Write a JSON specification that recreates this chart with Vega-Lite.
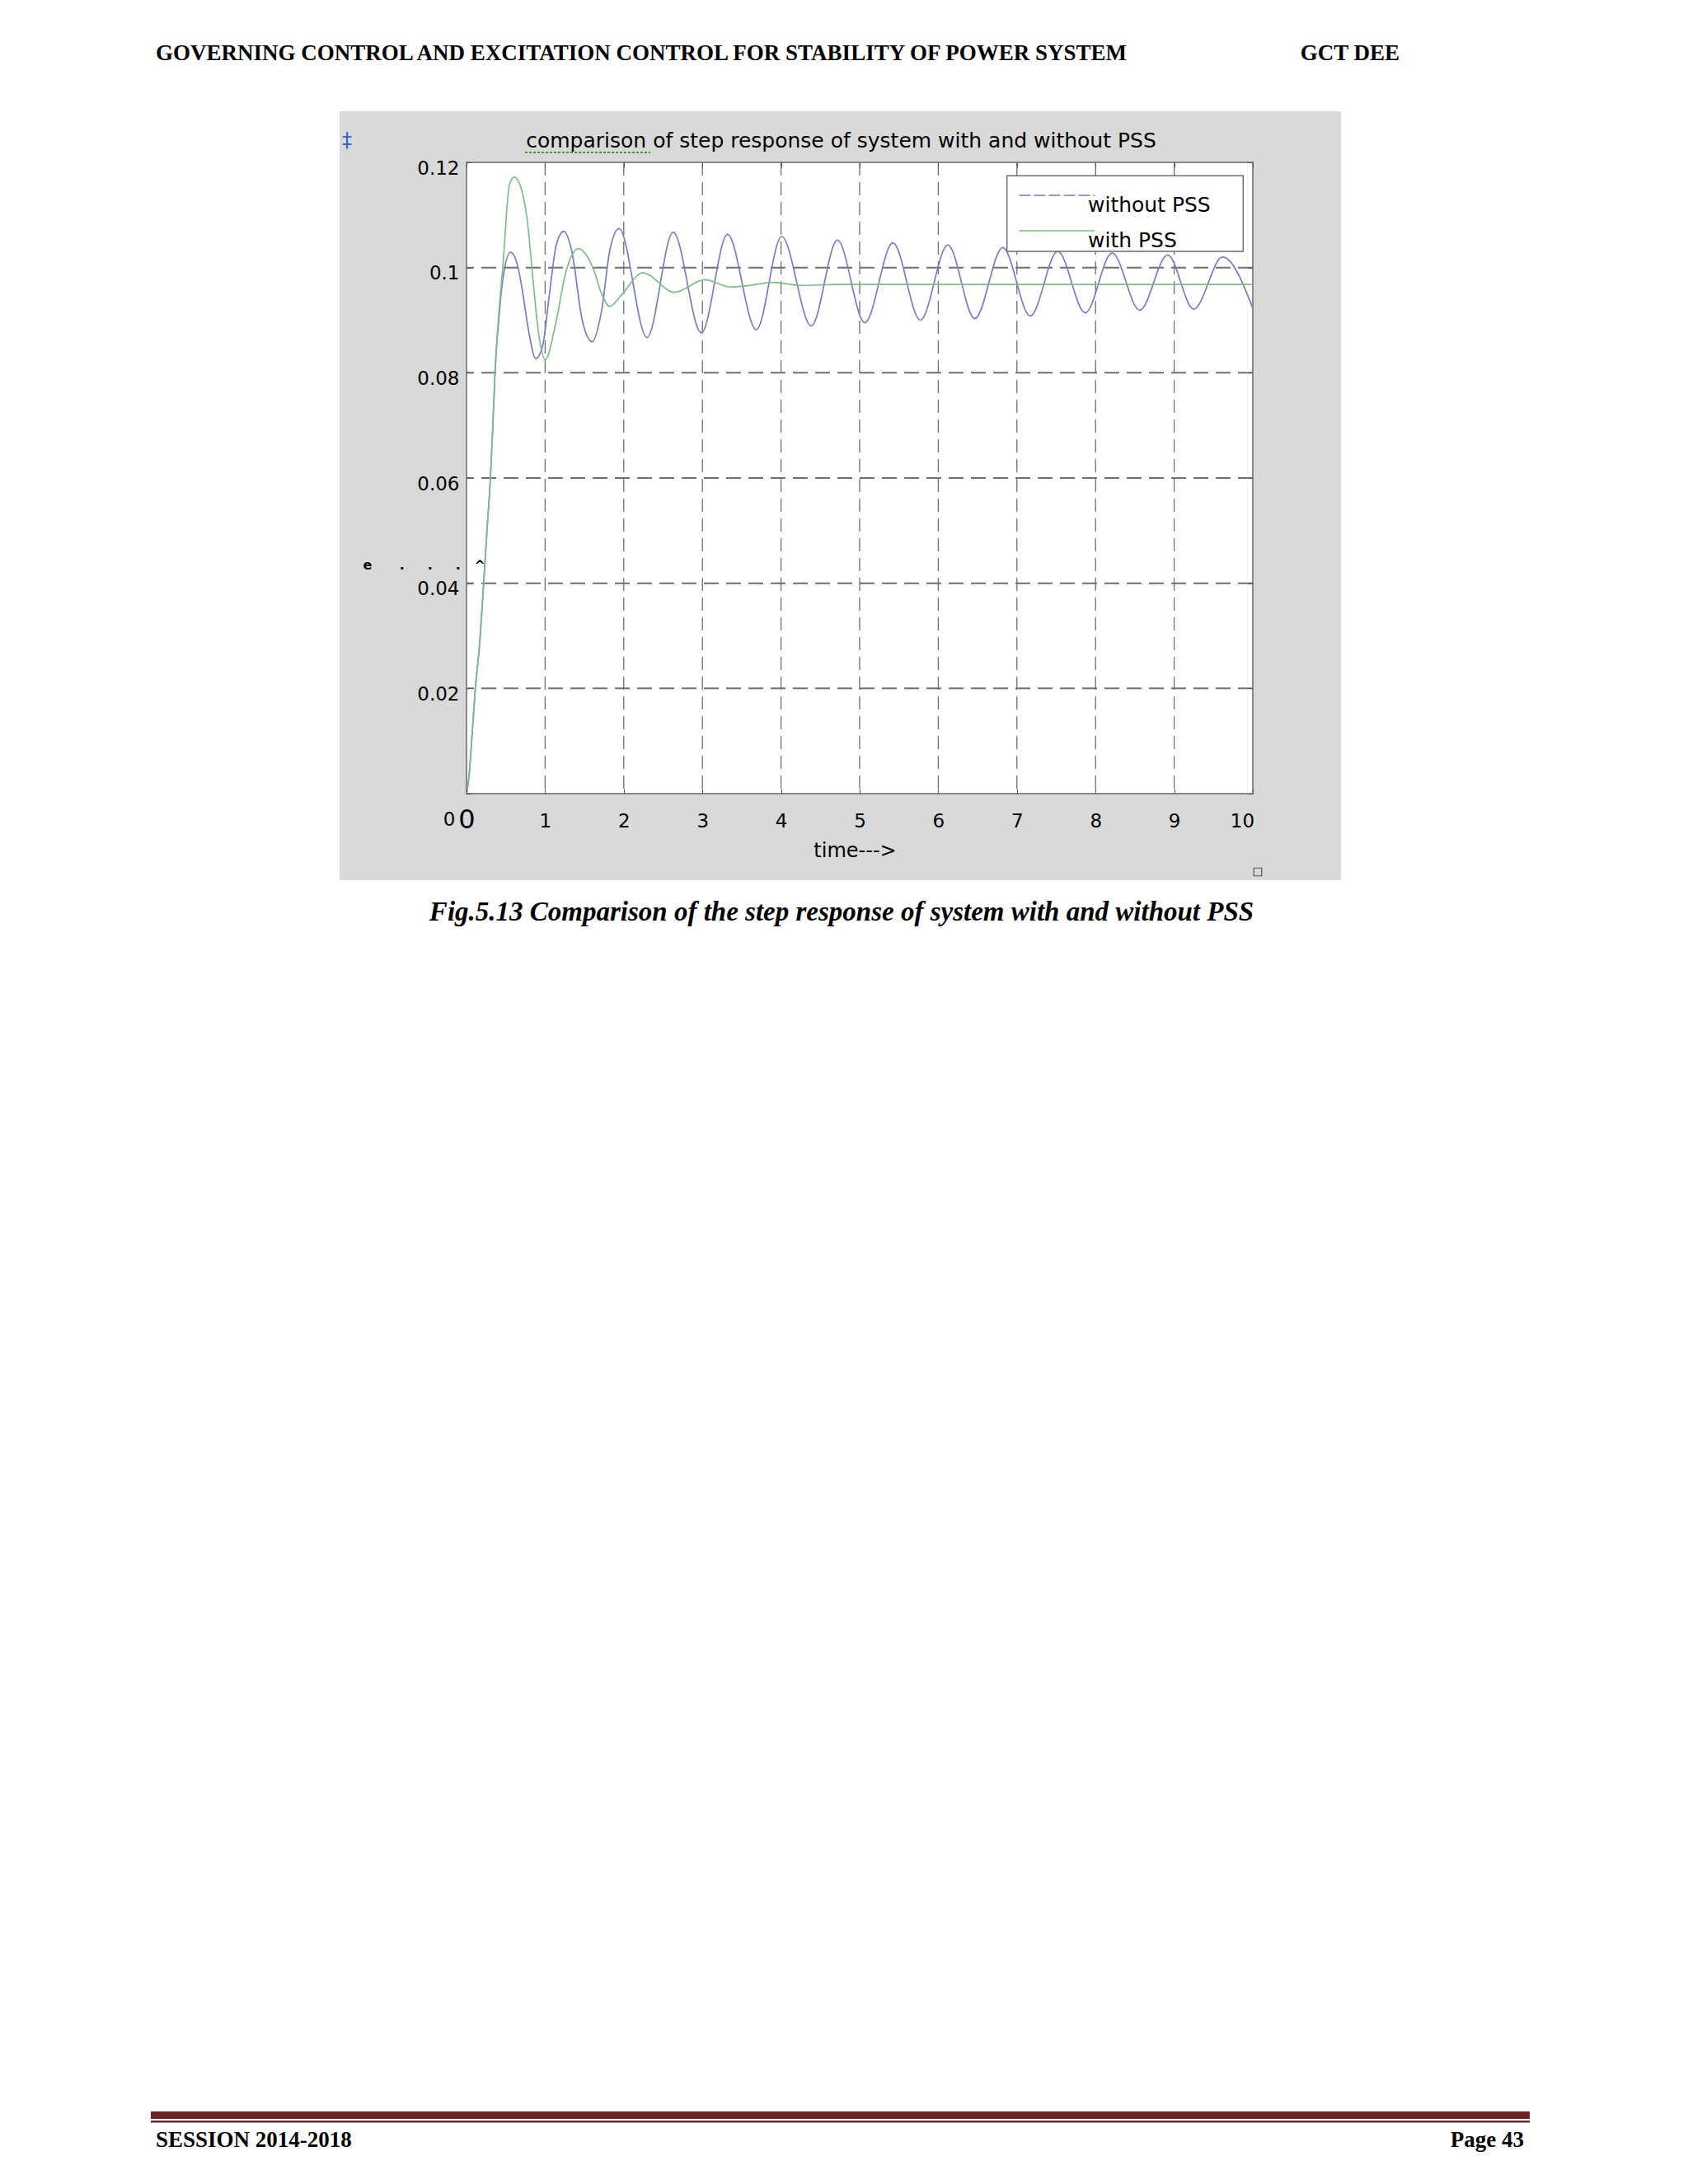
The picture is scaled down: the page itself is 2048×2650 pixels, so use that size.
{
  "$schema": "https://vega.github.io/schema/vega-lite/v6.json",
  "autosize": {"type": "none"},
  "width": 954,
  "height": 766,
  "padding": {"left": 566, "top": 197, "right": 528, "bottom": 1687},
  "background": "white",
  "config": {"view": {"stroke": null}, "font": "DejaVu Sans"},
  "datasets": {
    "resp": [
      {"series": "without PSS", "t": 0, "v": 0},
      {"series": "without PSS", "t": 0.03, "v": 0.003},
      {"series": "without PSS", "t": 0.07, "v": 0.011},
      {"series": "without PSS", "t": 0.112, "v": 0.02},
      {"series": "without PSS", "t": 0.164, "v": 0.028},
      {"series": "without PSS", "t": 0.214, "v": 0.039},
      {"series": "without PSS", "t": 0.26, "v": 0.05},
      {"series": "without PSS", "t": 0.304, "v": 0.06},
      {"series": "without PSS", "t": 0.335, "v": 0.07},
      {"series": "without PSS", "t": 0.362, "v": 0.08},
      {"series": "without PSS", "t": 0.41, "v": 0.09},
      {"series": "without PSS", "t": 0.461, "v": 0.0976},
      {"series": "without PSS", "t": 0.559, "v": 0.1029},
      {"series": "without PSS", "t": 0.653, "v": 0.1002},
      {"series": "without PSS", "t": 0.706, "v": 0.096},
      {"series": "without PSS", "t": 0.793, "v": 0.0877},
      {"series": "without PSS", "t": 0.88, "v": 0.0827},
      {"series": "without PSS", "t": 0.968, "v": 0.0851},
      {"series": "without PSS", "t": 1.055, "v": 0.095},
      {"series": "without PSS", "t": 1.143, "v": 0.1044},
      {"series": "without PSS", "t": 1.237, "v": 0.1069},
      {"series": "without PSS", "t": 1.335, "v": 0.1034},
      {"series": "without PSS", "t": 1.475, "v": 0.0898},
      {"series": "without PSS", "t": 1.597, "v": 0.0859},
      {"series": "without PSS", "t": 1.719, "v": 0.0919},
      {"series": "without PSS", "t": 1.824, "v": 0.1034},
      {"series": "without PSS", "t": 1.94, "v": 0.1074},
      {"series": "without PSS", "t": 2.296, "v": 0.0867},
      {"series": "without PSS", "t": 2.628, "v": 0.1067},
      {"series": "without PSS", "t": 2.987, "v": 0.0876},
      {"series": "without PSS", "t": 3.319, "v": 0.1063},
      {"series": "without PSS", "t": 3.686, "v": 0.0882},
      {"series": "without PSS", "t": 4.008, "v": 0.1059},
      {"series": "without PSS", "t": 4.385, "v": 0.0889},
      {"series": "without PSS", "t": 4.717, "v": 0.1052},
      {"series": "without PSS", "t": 5.066, "v": 0.0895},
      {"series": "without PSS", "t": 5.423, "v": 0.1047},
      {"series": "without PSS", "t": 5.772, "v": 0.09},
      {"series": "without PSS", "t": 6.122, "v": 0.1043},
      {"series": "without PSS", "t": 6.464, "v": 0.0903},
      {"series": "without PSS", "t": 6.82, "v": 0.1038},
      {"series": "without PSS", "t": 7.17, "v": 0.0908},
      {"series": "without PSS", "t": 7.519, "v": 0.1031},
      {"series": "without PSS", "t": 7.869, "v": 0.0914},
      {"series": "without PSS", "t": 8.211, "v": 0.1028},
      {"series": "without PSS", "t": 8.561, "v": 0.0919},
      {"series": "without PSS", "t": 8.917, "v": 0.1024},
      {"series": "without PSS", "t": 9.249, "v": 0.0921},
      {"series": "without PSS", "t": 9.616, "v": 0.102},
      {"series": "without PSS", "t": 10, "v": 0.0923},
      {"series": "with PSS", "t": 0, "v": 0},
      {"series": "with PSS", "t": 0.03, "v": 0.003},
      {"series": "with PSS", "t": 0.07, "v": 0.011},
      {"series": "with PSS", "t": 0.112, "v": 0.02},
      {"series": "with PSS", "t": 0.164, "v": 0.028},
      {"series": "with PSS", "t": 0.214, "v": 0.039},
      {"series": "with PSS", "t": 0.26, "v": 0.05},
      {"series": "with PSS", "t": 0.304, "v": 0.06},
      {"series": "with PSS", "t": 0.335, "v": 0.07},
      {"series": "with PSS", "t": 0.362, "v": 0.08},
      {"series": "with PSS", "t": 0.41, "v": 0.091},
      {"series": "with PSS", "t": 0.461, "v": 0.1},
      {"series": "with PSS", "t": 0.548, "v": 0.1159},
      {"series": "with PSS", "t": 0.608, "v": 0.1172},
      {"series": "with PSS", "t": 0.688, "v": 0.1154},
      {"series": "with PSS", "t": 0.776, "v": 0.1086},
      {"series": "with PSS", "t": 0.846, "v": 0.0976},
      {"series": "with PSS", "t": 0.915, "v": 0.0877},
      {"series": "with PSS", "t": 1.003, "v": 0.0825},
      {"series": "with PSS", "t": 1.125, "v": 0.0887},
      {"series": "with PSS", "t": 1.265, "v": 0.0992},
      {"series": "with PSS", "t": 1.422, "v": 0.1036},
      {"series": "with PSS", "t": 1.614, "v": 0.0997},
      {"series": "with PSS", "t": 1.719, "v": 0.095},
      {"series": "with PSS", "t": 1.824, "v": 0.0926},
      {"series": "with PSS", "t": 1.981, "v": 0.095},
      {"series": "with PSS", "t": 2.243, "v": 0.099},
      {"series": "with PSS", "t": 2.645, "v": 0.0953},
      {"series": "with PSS", "t": 3.029, "v": 0.0977},
      {"series": "with PSS", "t": 3.361, "v": 0.0963},
      {"series": "with PSS", "t": 3.6, "v": 0.0966},
      {"series": "with PSS", "t": 3.89, "v": 0.0972},
      {"series": "with PSS", "t": 4.25, "v": 0.0966},
      {"series": "with PSS", "t": 4.7, "v": 0.0968},
      {"series": "with PSS", "t": 6, "v": 0.0968},
      {"series": "with PSS", "t": 8, "v": 0.0968},
      {"series": "with PSS", "t": 10, "v": 0.0968}
    ],
    "xgrid": [{"g": 1}, {"g": 2}, {"g": 3}, {"g": 4}, {"g": 5}, {"g": 6}, {"g": 7}, {"g": 8}, {"g": 9}],
    "ygrid": [{"g": 0.02}, {"g": 0.04}, {"g": 0.06}, {"g": 0.08}, {"g": 0.1}]
  },
  "layer": [
    {
      "data": {"values": [{}]},
      "mark": {"type": "rect", "color": "#d9d9d9"},
      "encoding": {
        "x": {"datum": -1.61426, "type": "quantitative", "scale": {"domain": [0, 10], "nice": false, "zero": false}, "axis": null},
        "x2": {"datum": 11.1216},
        "y": {"datum": 0.12972, "type": "quantitative", "scale": {"domain": [0, 0.12], "nice": false, "zero": false}, "axis": null},
        "y2": {"datum": -0.01645}
      }
    },
    {
      "data": {"values": [{}]},
      "mark": {"type": "rect", "fill": "#ffffff", "stroke": "#8a8a8a", "strokeWidth": 2},
      "encoding": {
        "x": {"datum": 0, "type": "quantitative", "scale": {"domain": [0, 10], "nice": false, "zero": false}, "axis": null},
        "x2": {"datum": 10},
        "y": {"datum": 0.12, "type": "quantitative", "scale": {"domain": [0, 0.12], "nice": false, "zero": false}, "axis": null},
        "y2": {"datum": 0}
      }
    },
    {
      "data": {"name": "xgrid"},
      "mark": {"type": "rule", "color": "#6f6f6f", "strokeWidth": 1.3, "strokeDash": [16, 8]},
      "encoding": {
        "x": {"field": "g", "type": "quantitative", "scale": {"domain": [0, 10], "nice": false, "zero": false}, "axis": null}
      }
    },
    {
      "data": {"name": "ygrid"},
      "mark": {"type": "rule", "color": "#6f6f6f", "strokeWidth": 2, "strokeDash": [18, 9]},
      "encoding": {
        "y": {"field": "g", "type": "quantitative", "scale": {"domain": [0, 0.12], "nice": false, "zero": false}, "axis": null}
      }
    },
    {
      "data": {"name": "resp"},
      "mark": {"type": "line", "interpolate": "monotone", "strokeWidth": 1.7},
      "encoding": {
        "x": {
          "field": "t", "type": "quantitative",
          "scale": {"domain": [0, 10], "nice": false, "zero": false},
          "axis": {
            "orient": "bottom", "values": [0, 1, 2, 3, 4, 5, 6, 7, 8, 9, 10],
            "title": "time--->", "titleFont": "DejaVu Sans", "titleFontSize": 24, "titleFontWeight": "normal", "titleColor": "#000000",
            "titleX": 471, "titleY": 69, "titleBaseline": "middle", "titleAlign": "center",
            "labelFont": "DejaVu Sans", "labelColor": "#000000",
            "labelFontSize": {"condition": {"test": "datum.value == 0", "value": 32}, "value": 23},
            "labelPadding": {"condition": {"test": "datum.value == 0", "value": 22}, "value": 28},
            "labelOffset": {"condition": {"test": "datum.value == 10", "value": -13}, "value": 0},
            "labelFlush": false, "labelOverlap": false,
            "tickSize": -6, "tickColor": "#555555", "tickWidth": 1,
            "domain": false, "grid": false,
            "zindex": 1
          }
        },
        "y": {
          "field": "v", "type": "quantitative",
          "scale": {"domain": [0, 0.12], "nice": false, "zero": false},
          "axis": {
            "orient": "left", "values": [0, 0.02, 0.04, 0.06, 0.08, 0.1, 0.12],
            "labelExpr": "datum.value == 0 ? '0' : format(datum.value, '~g')",
            "title": "e\u00a0\u00a0\u00a0\u00a0\u00a0\u00a0.\u00a0\u00a0\u00a0\u00a0\u00a0.\u00a0\u00a0\u00a0\u00a0\u00a0.\u00a0\u00a0\u00a0^",
            "titleAngle": 0, "titleX": -126, "titleY": 488, "titleAlign": "left", "titleBaseline": "middle",
            "titleFont": "DejaVu Sans", "titleFontSize": 16, "titleFontWeight": "bold", "titleColor": "#000000",
            "labelFont": "DejaVu Sans", "labelFontSize": 23, "labelColor": "#000000",
            "labelBaseline": "middle",
            "labelPadding": {"condition": {"test": "datum.value == 0", "value": 20}, "value": 15},
            "labelOffset": {"condition": {"test": "datum.value == 0", "value": 31}, "value": 7},
            "labelFlush": false, "labelOverlap": false,
            "tickSize": -6, "tickColor": "#555555", "tickWidth": 1,
            "domain": false, "grid": false,
            "zindex": 1
          }
        },
        "color": {
          "field": "series", "type": "nominal",
          "scale": {"domain": ["without PSS", "with PSS"], "range": ["#7b7bc4", "#80bb8a"]},
          "legend": {
            "title": null, "orient": "none", "legendX": 704, "legendY": 27.5,
            "symbolType": "M-4,0H4", "symbolSize": 529, "symbolStrokeWidth": 1.7,
            "labelFont": "DejaVu Sans", "labelFontSize": 25, "labelColor": "#000000",
            "labelOffset": 25, "labelBaseline": "top", "labelLimit": 400,
            "rowPadding": 5, "padding": 0,
            "encode": {"symbols": {"update": {"strokeDash": {"signal": "datum.value === 'without PSS' ? [14, 4] : [1, 0]"}}}}
          }
        }
      }
    },
    {
      "data": {"values": [{}]},
      "mark": {"type": "rect", "fill": "#ffffff", "stroke": "#6e6e6e", "strokeWidth": 1.5},
      "encoding": {
        "x": {"datum": 6.87317, "type": "quantitative", "scale": {"domain": [0, 10], "nice": false, "zero": false}, "axis": null},
        "x2": {"datum": 9.87736},
        "y": {"datum": 0.117453, "type": "quantitative", "scale": {"domain": [0, 0.12], "nice": false, "zero": false}, "axis": null},
        "y2": {"datum": 0.103086}
      }
    },
    {
      "data": {"values": [{}]},
      "mark": {"type": "point", "opacity": 0},
      "encoding": {
        "x": {"datum": 5, "type": "quantitative", "scale": {"domain": [0, 10], "nice": false, "zero": false},
          "axis": {"orient": "top", "values": [0, 1, 2, 3, 4, 5, 6, 7, 8, 9, 10], "labels": false, "grid": false, "domain": false,
            "title": "comparison of step response of system with and without PSS",
            "titleFont": "DejaVu Sans", "titleFontSize": 25, "titleFontWeight": "normal", "titleColor": "#000000",
            "titleX": 454, "titleY": -19, "titleAlign": "center", "titleBaseline": "alphabetic",
            "tickSize": -6, "tickColor": "#555555", "zindex": 1}},
        "y": {"datum": 0.06, "type": "quantitative", "scale": {"domain": [0, 0.12], "nice": false, "zero": false},
          "axis": {"orient": "right", "values": [0, 0.02, 0.04, 0.06, 0.08, 0.1, 0.12], "labels": false, "grid": false, "domain": false, "title": null, "tickSize": -6, "tickColor": "#555555", "zindex": 1}}
      }
    },
    {
      "data": {"values": [{}]},
      "mark": {"type": "rule", "color": "#3a9a3a", "strokeWidth": 2, "strokeDash": [3, 2]},
      "encoding": {
        "x": {"datum": 0.7442, "type": "quantitative", "scale": {"domain": [0, 10], "nice": false, "zero": false}, "axis": null},
        "x2": {"datum": 2.3375},
        "y": {"datum": 0.12188, "type": "quantitative", "scale": {"domain": [0, 0.12], "nice": false, "zero": false}, "axis": null}
      }
    },
    {
      "data": {"values": [{}]},
      "mark": {"type": "text", "text": "\u2021", "font": "DejaVu Sans", "fontSize": 24, "color": "#3a5fcd", "align": "center", "baseline": "middle"},
      "encoding": {
        "x": {"datum": -1.51992, "type": "quantitative", "scale": {"domain": [0, 10], "nice": false, "zero": false}, "axis": null},
        "y": {"datum": 0.12408, "type": "quantitative", "scale": {"domain": [0, 0.12], "nice": false, "zero": false}, "axis": null}
      }
    },
    {
      "data": {"values": [{}]},
      "mark": {"type": "point", "shape": "square", "filled": false, "size": 90, "color": "#555555", "strokeWidth": 1.2, "opacity": 1},
      "encoding": {
        "x": {"datum": 10.0629, "type": "quantitative", "scale": {"domain": [0, 10], "nice": false, "zero": false}, "axis": null},
        "y": {"datum": -0.014883, "type": "quantitative", "scale": {"domain": [0, 0.12], "nice": false, "zero": false}, "axis": null}
      }
    },
    {
      "data": {"values": [{}]},
      "mark": {"type": "text", "text": "GOVERNING CONTROL AND EXCITATION CONTROL FOR STABILITY OF POWER SYSTEM", "font": "Liberation Serif", "fontSize": 27, "fontWeight": "bold", "color": "#000000", "align": "left", "baseline": "alphabetic"},
      "encoding": {
        "x": {"datum": -3.95178, "type": "quantitative", "scale": {"domain": [0, 10], "nice": false, "zero": false}, "axis": null},
        "y": {"datum": 0.139433, "type": "quantitative", "scale": {"domain": [0, 0.12], "nice": false, "zero": false}, "axis": null}
      }
    },
    {
      "data": {"values": [{}]},
      "mark": {"type": "text", "text": "GCT DEE", "font": "Liberation Serif", "fontSize": 27, "fontWeight": "bold", "color": "#000000", "align": "right", "baseline": "alphabetic"},
      "encoding": {
        "x": {"datum": 11.8658, "type": "quantitative", "scale": {"domain": [0, 10], "nice": false, "zero": false}, "axis": null},
        "y": {"datum": 0.139433, "type": "quantitative", "scale": {"domain": [0, 0.12], "nice": false, "zero": false}, "axis": null}
      }
    },
    {
      "data": {"values": [{}]},
      "mark": {"type": "text", "text": "Fig.5.13 Comparison of the step response of system with and without PSS", "font": "Liberation Serif", "fontSize": 33, "fontWeight": "bold", "fontStyle": "italic", "color": "#000000", "align": "center", "baseline": "alphabetic"},
      "encoding": {
        "x": {"datum": 4.76939, "type": "quantitative", "scale": {"domain": [0, 10], "nice": false, "zero": false}, "axis": null},
        "y": {"datum": -0.024127, "type": "quantitative", "scale": {"domain": [0, 0.12], "nice": false, "zero": false}, "axis": null}
      }
    },
    {
      "data": {"values": [{}]},
      "mark": {"type": "rect", "color": "#6a2327"},
      "encoding": {
        "x": {"datum": -4.01468, "type": "quantitative", "scale": {"domain": [0, 10], "nice": false, "zero": false}, "axis": null},
        "x2": {"datum": 13.522},
        "y": {"datum": -0.250509, "type": "quantitative", "scale": {"domain": [0, 0.12], "nice": false, "zero": false}, "axis": null},
        "y2": {"datum": -0.251919}
      }
    },
    {
      "data": {"values": [{}]},
      "mark": {"type": "rect", "color": "#6a2327"},
      "encoding": {
        "x": {"datum": -4.01468, "type": "quantitative", "scale": {"domain": [0, 10], "nice": false, "zero": false}, "axis": null},
        "x2": {"datum": 13.522},
        "y": {"datum": -0.252233, "type": "quantitative", "scale": {"domain": [0, 0.12], "nice": false, "zero": false}, "axis": null},
        "y2": {"datum": -0.252624}
      }
    },
    {
      "data": {"values": [{}]},
      "mark": {"type": "text", "text": "SESSION 2014-2018", "font": "Liberation Serif", "fontSize": 27, "fontWeight": "bold", "color": "#000000", "align": "left", "baseline": "alphabetic"},
      "encoding": {
        "x": {"datum": -3.95178, "type": "quantitative", "scale": {"domain": [0, 10], "nice": false, "zero": false}, "axis": null},
        "y": {"datum": -0.257246, "type": "quantitative", "scale": {"domain": [0, 0.12], "nice": false, "zero": false}, "axis": null}
      }
    },
    {
      "data": {"values": [{}]},
      "mark": {"type": "text", "text": "Page 43", "font": "Liberation Serif", "fontSize": 27, "fontWeight": "bold", "color": "#000000", "align": "right", "baseline": "alphabetic"},
      "encoding": {
        "x": {"datum": 13.4486, "type": "quantitative", "scale": {"domain": [0, 10], "nice": false, "zero": false}, "axis": null},
        "y": {"datum": -0.257246, "type": "quantitative", "scale": {"domain": [0, 0.12], "nice": false, "zero": false}, "axis": null}
      }
    }
  ],
  "resolve": {"axis": {"x": "independent", "y": "independent"}}
}
